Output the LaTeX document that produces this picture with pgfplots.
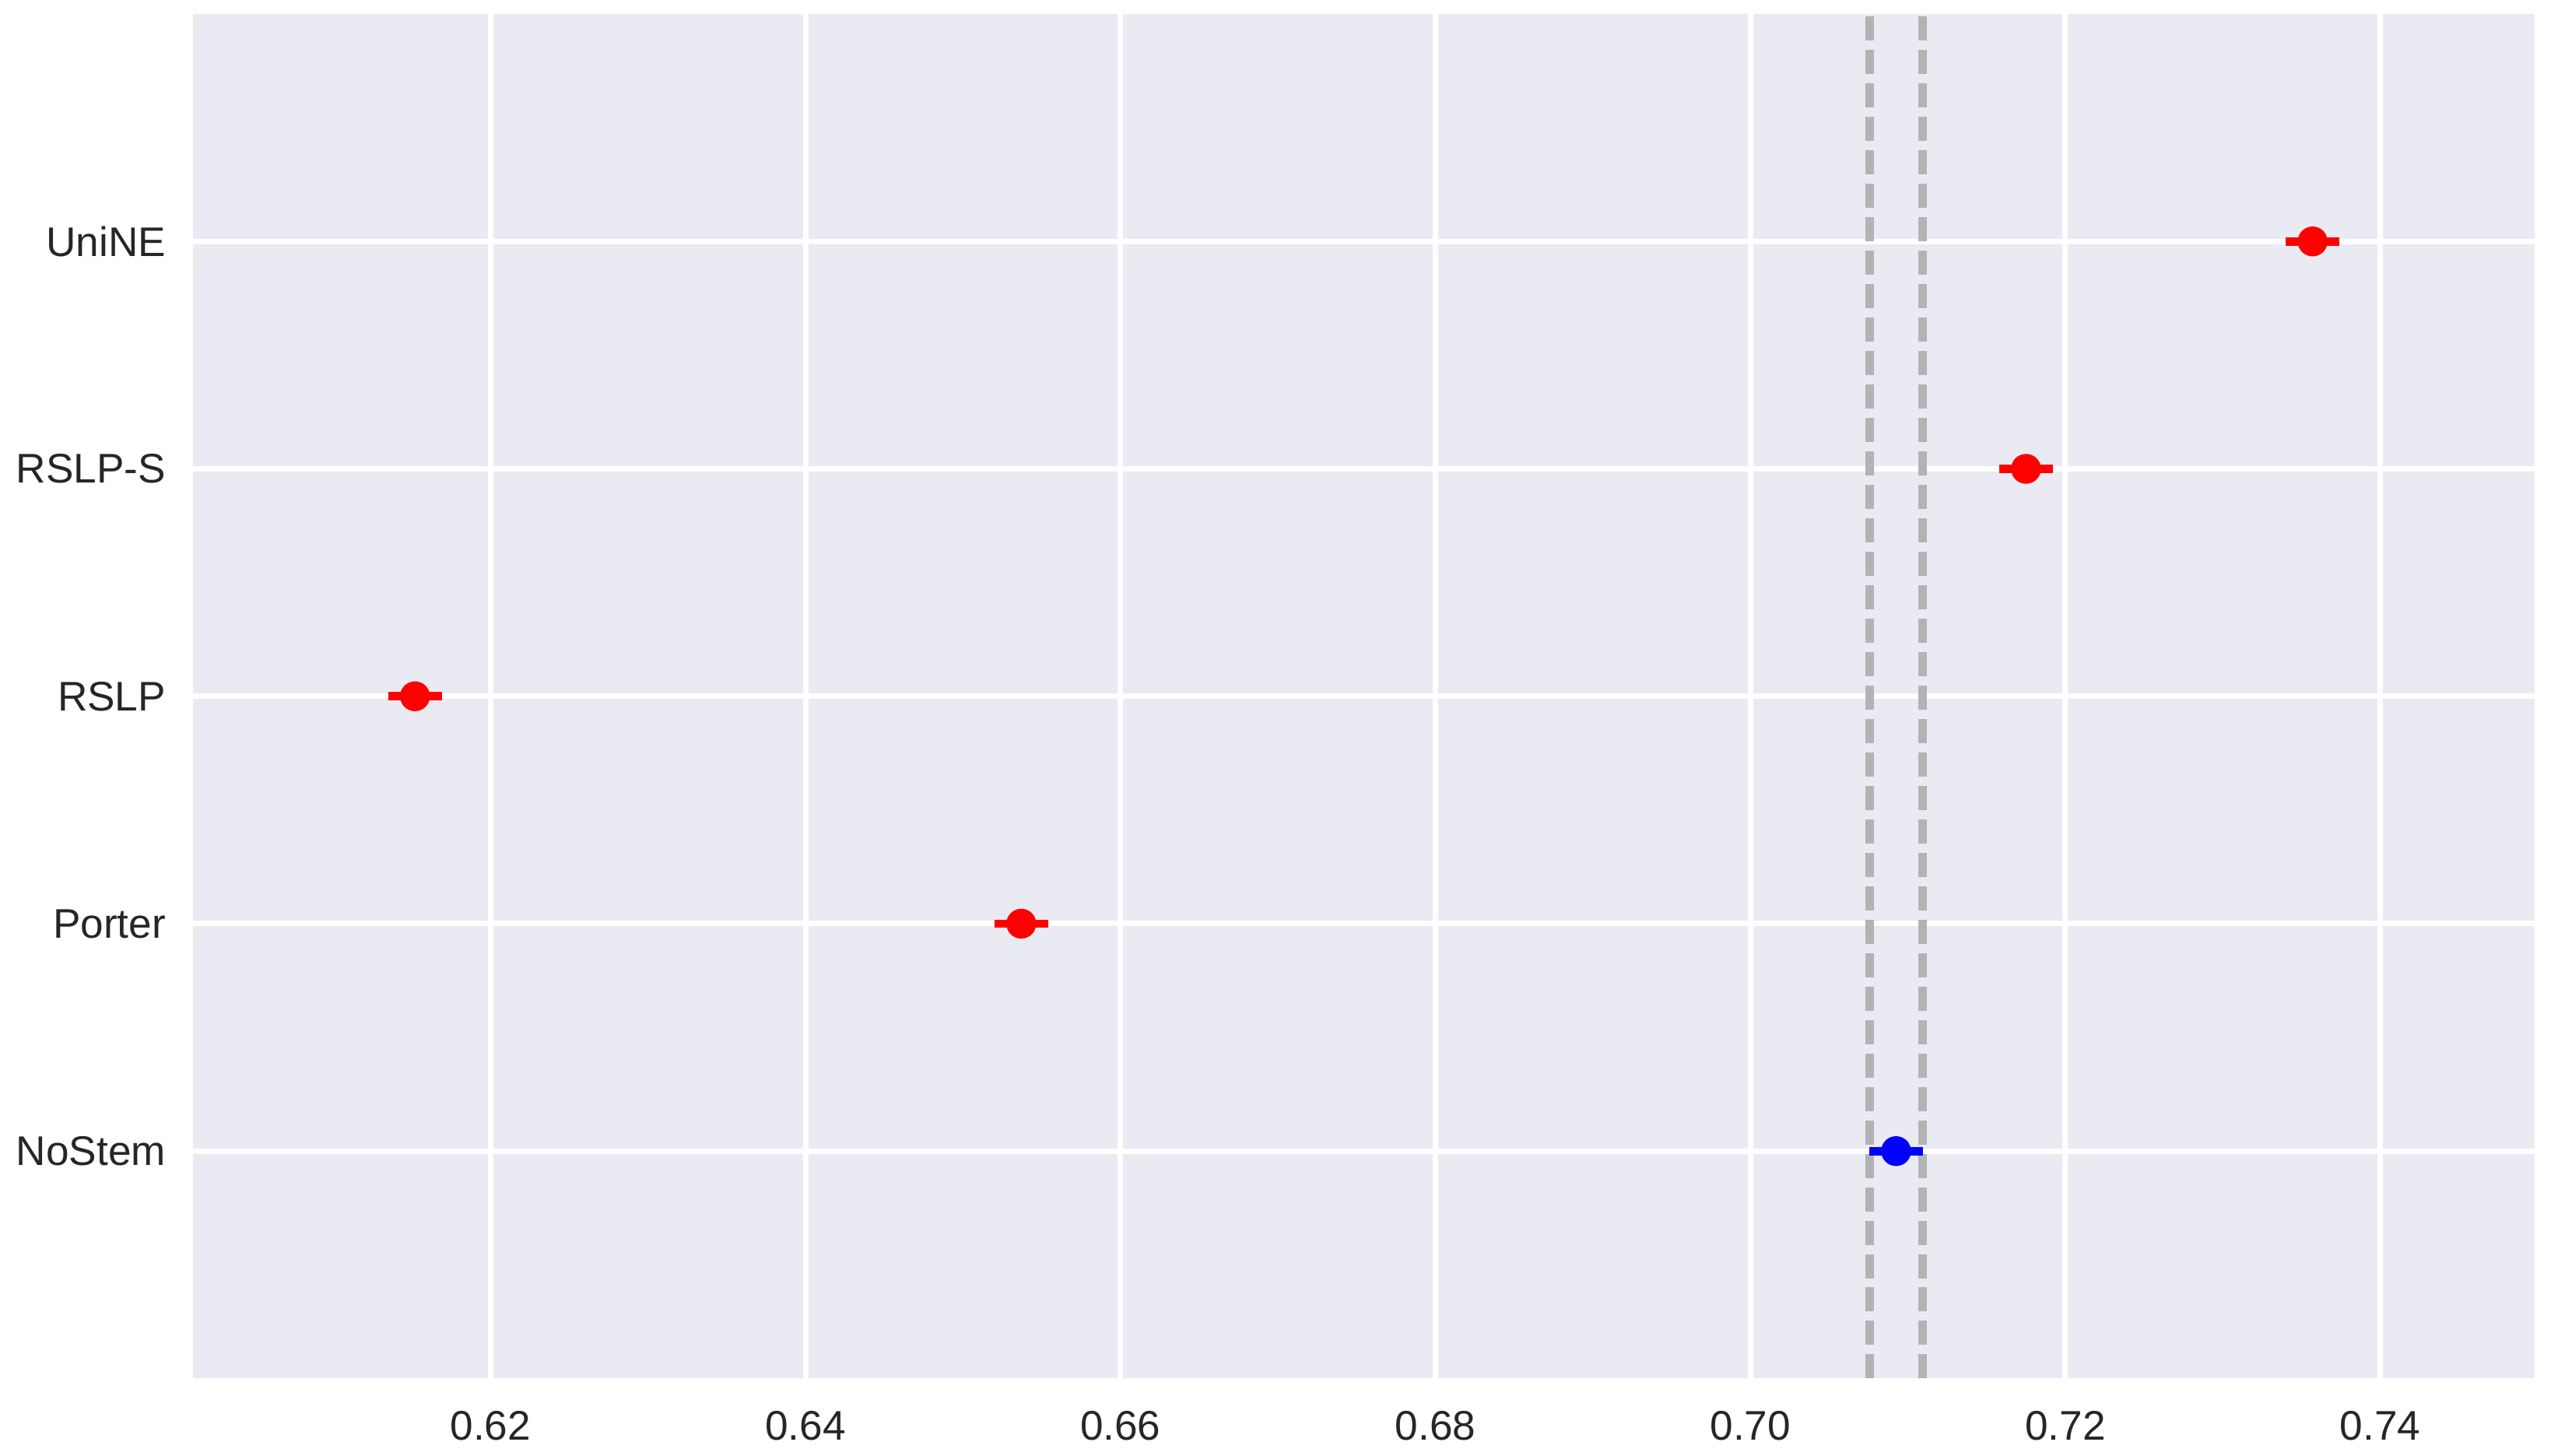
\documentclass[border=0pt]{standalone}
\usepackage{fontspec}
\setmainfont{Liberation Sans}
\usepackage{pgfplots}
\pgfplotsset{compat=1.18}
\definecolor{bg}{HTML}{EAEAF2}
\definecolor{ink}{HTML}{262626}
\definecolor{refgray}{HTML}{B3B3B3}

\begin{document}
\begin{tikzpicture}
\begin{axis}[
  name=ax,
  scale only axis, width=752.5bp, height=438.5bp,
  xmin=0.6011, xmax=0.7498, ymin=-1, ymax=5,
  axis background/.style={fill=bg},
  axis line style={draw=none},
  grid=major, major grid style={white, line width=1.75bp},
  major tick length=0pt,
  xtick={0.62,0.64,0.66,0.68,0.70,0.72,0.74},
  ytick={0,1,2,3,4},
  yticklabels={NoStem,Porter,RSLP,RSLP-S,UniNE},
  tick label style={font=\fontsize{13.3bp}{16bp}\selectfont, text=ink},
  xticklabel style={yshift=-7bp,
    /pgf/number format/.cd, fixed, fixed zerofill, precision=2,
    assume math mode=true},
  yticklabel style={xshift=-5.2bp},
  scaled x ticks=false,
]
% reference interval of NoStem
\addplot[refgray, line width=2.75bp, dash pattern=on 7.75bp off 3bp] coordinates {(0.70755,-1) (0.70755,5)};
\addplot[refgray, line width=2.75bp, dash pattern=on 7.75bp off 3bp] coordinates {(0.71095,-1) (0.71095,5)};

\addplot[red, only marks, mark=*, mark size=4.6bp, mark options={draw=none, fill=red},
  error bars/.cd, x dir=both, x explicit, error mark=none,
  error bar style={line width=2.7bp, red}]
  coordinates {
    (0.7357,4) +- (0.0017,0)
    (0.7175,3) +- (0.0017,0)
    (0.6152,2) +- (0.0017,0)
    (0.6537,1) +- (0.0017,0)
  };
\addplot[blue, only marks, mark=*, mark size=4.6bp, mark options={draw=none, fill=blue},
  error bars/.cd, x dir=both, x explicit, error mark=none,
  error bar style={line width=2.7bp, blue}]
  coordinates {(0.70925,0) +- (0.0017,0)};
\end{axis}
\pgfresetboundingbox
\path ([xshift=-62bp,yshift=-24.75bp]ax.south west) rectangle ([xshift=5.25bp,yshift=4.5bp]ax.north east);
\end{tikzpicture}
\end{document}
